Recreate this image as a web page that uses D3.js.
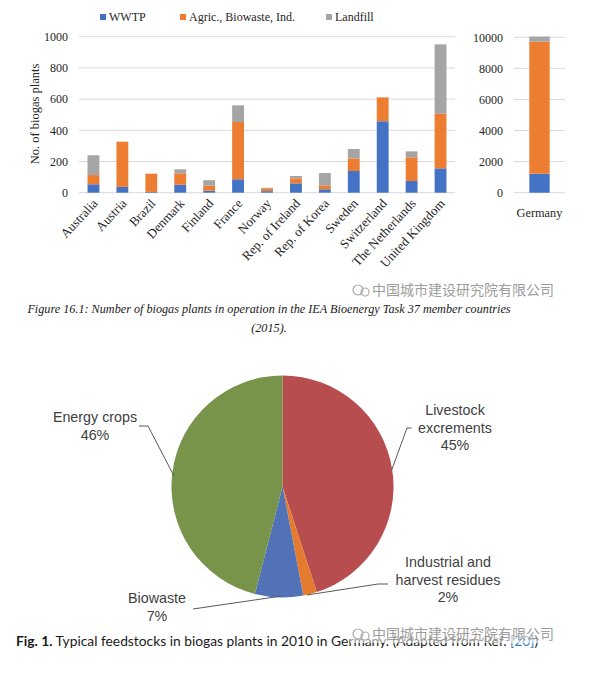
<!DOCTYPE html>
<html><head><meta charset="utf-8">
<script src="https://cdn.jsdelivr.net/npm/d3@7"></script>
<style>body{margin:0;background:#fff}svg{display:block}</style>
</head><body>
<svg id="c" width="600" height="684"></svg>
<script>
const categories = ["Australia","Austria","Brazil","Denmark","Finland","France","Norway","Rep. of Ireland","Rep. of Korea","Sweden","Switzerland","The Netherlands","United Kingdom"];
const wwtp     = [54,37,5,51,13,86,10,60,22,139,458,75,156];
const agric    = [59,290,117,73,32,367,18,32,25,81,153,152,350];
const landfill = [127,0,0,26,35,107,4,15,79,60,0,38,445];
const seriesNames = ["WWTP","Agric., Biowaste, Ind.","Landfill"];
const germanyCat = ["Germany"];
const germanyVals = [1222, 8495, 330];
const leftTicks = [0,200,400,600,800,1000];
const rightTicks = [0,2000,4000,6000,8000,10000];
const pieLabels = [["Livestock","excrements","45%"],["Industrial and","harvest residues","2%"],["Biowaste","7%"],["Energy crops","46%"]];
const pieValues = [45,2,7,46];

const svg = d3.select("#c");
const serif = "'Liberation Serif', serif";
const sans = "'Liberation Sans', Arial, sans-serif";
const barColors = ["#4472C4","#ED7D31","#A5A5A5"];

// ---------- Left stacked bars ----------
const rows = categories.map((c,i)=>({cat:c, WWTP:wwtp[i], "Agric., Biowaste, Ind.":agric[i], Landfill:landfill[i]}));
const stack = d3.stack().keys(seriesNames);
const x = d3.scaleBand().domain(categories).range([79,455]).paddingInner(0.59).paddingOuter(0.295);
const y = d3.scaleLinear().domain([0,1000]).range([192.7,36.7]);

const gL = svg.append("g");
gL.selectAll("line.grid").data(leftTicks).join("line")
  .attr("x1",79).attr("x2",455).attr("y1",d=>y(d)).attr("y2",d=>y(d))
  .attr("stroke","#D9D9D9").attr("stroke-width",1);
const yAx = gL.append("g").attr("transform","translate(79,0)")
  .call(d3.axisLeft(y).tickValues(leftTicks).tickSize(0).tickPadding(11).tickFormat(d3.format("d")));
yAx.select(".domain").remove();
yAx.selectAll("text").attr("font-family",serif).attr("font-size","12px").attr("fill","#262626");

gL.selectAll("g.s").data(stack(rows)).join("g").attr("fill",(d,i)=>barColors[i])
  .selectAll("rect").data(d=>d).join("rect")
  .attr("x",d=>x(d.data.cat)).attr("width",x.bandwidth())
  .attr("y",d=>y(d[1])).attr("height",d=>y(d[0])-y(d[1]));

gL.selectAll("text.xl").data(categories).join("text")
  .attr("transform",d=>`translate(${x(d)+x.bandwidth()/2+5},${204}) rotate(-47)`)
  .attr("text-anchor","end").attr("font-family",serif).attr("font-size","13px").attr("fill","#262626")
  .text(d=>d);

gL.append("text").attr("transform","translate(39,114) rotate(-90)")
  .attr("text-anchor","middle").attr("font-family",serif).attr("font-size","12.5px").attr("fill","#262626")
  .text("No. of biogas plants");

// ---------- Right Germany bar ----------
const gRows = [{cat:germanyCat[0], WWTP:germanyVals[0], "Agric., Biowaste, Ind.":germanyVals[1], Landfill:germanyVals[2]}];
const x2 = d3.scaleBand().domain(germanyCat).range([514,565]).paddingInner(0.6).paddingOuter(0.3);
const y2 = d3.scaleLinear().domain([0,10000]).range([192.7,37.3]);
const gR = svg.append("g");
gR.selectAll("line.grid").data(rightTicks).join("line")
  .attr("x1",514).attr("x2",565).attr("y1",d=>y2(d)).attr("y2",d=>y2(d))
  .attr("stroke","#D9D9D9").attr("stroke-width",1);
const y2Ax = gR.append("g").attr("transform","translate(514,0)")
  .call(d3.axisLeft(y2).tickValues(rightTicks).tickSize(0).tickPadding(11).tickFormat(d3.format("d")));
y2Ax.select(".domain").remove();
y2Ax.selectAll("text").attr("font-family",serif).attr("font-size","12px").attr("fill","#262626");
gR.selectAll("g.s").data(stack(gRows)).join("g").attr("fill",(d,i)=>barColors[i])
  .selectAll("rect").data(d=>d).join("rect")
  .attr("x",d=>x2(d.data.cat)).attr("width",x2.bandwidth())
  .attr("y",d=>y2(d[1])).attr("height",d=>y2(d[0])-y2(d[1]));
gR.append("text").attr("x",x2(germanyCat[0])+x2.bandwidth()/2).attr("y",217)
  .attr("text-anchor","middle").attr("font-family",serif).attr("font-size","12.3px").attr("fill","#262626")
  .text(germanyCat[0]);

// ---------- Legend ----------
const legX = [100,180,326];
const leg = svg.append("g");
seriesNames.forEach((n,i)=>{
  leg.append("rect").attr("x",legX[i]).attr("y",14).attr("width",6).attr("height",6).attr("fill",barColors[i]);
  leg.append("text").attr("x",legX[i]+9).attr("y",21).attr("font-family",serif).attr("font-size","12px").attr("fill","#262626").text(n);
});

// ---------- Caption 1 ----------
const cap1 = svg.append("g").attr("font-family",serif).attr("font-style","italic").attr("font-size","12.2px").attr("fill","#1a1a1a").attr("text-anchor","middle");
cap1.append("text").attr("x",269).attr("y",313).text("Figure 16.1: Number of biogas plants in operation in the IEA Bioenergy Task 37 member countries");
cap1.append("text").attr("x",269).attr("y",332).text("(2015).");

// ---------- Pie ----------
const cx=282.5, cy=486.5, R=111;
const pieColors = ["#B84D50","#E47B2E","#5172B6","#78934A"];
const pie = d3.pie().sort(null).value(d=>d)(pieValues);
const arc = d3.arc().innerRadius(0).outerRadius(R);
const gP = svg.append("g").attr("transform",`translate(${cx},${cy})`);
gP.selectAll("path").data(pie).join("path").attr("d",arc).attr("fill",(d,i)=>pieColors[i]);

// leader lines
const leaders = [
  [[411.7,428],[407,428],[391.7,470]],
  [[388,584],[378,584],[307,595]],
  [[193,609],[282,596]],
  [[139,426],[148,426],[174,476]]
];
svg.selectAll("polyline.ld").data(leaders).join("polyline")
  .attr("points",d=>d.map(p=>p.join(",")).join(" "))
  .attr("fill","none").attr("stroke","#595959").attr("stroke-width",1);

const labelPos = [[455,415],[448,567],[157,603],[95,422]];
pieLabels.forEach((lines,i)=>{
  const t = svg.append("text").attr("text-anchor","middle").attr("font-family",sans).attr("font-size","14.3px").attr("fill","#404040");
  lines.forEach((ln,j)=>t.append("tspan").attr("x",labelPos[i][0]).attr("y",labelPos[i][1]+j*17.5).text(ln));
});

// ---------- Caption 2 ----------
const cap2 = svg.append("text").attr("x",16).attr("y",646).attr("font-family","Lato, sans-serif").attr("font-size","13.8px").attr("fill","#1a1a1a");
cap2.append("tspan").attr("font-weight","bold").text("Fig. 1.");
cap2.append("tspan").text(" Typical feedstocks in biogas plants in 2010 in Germany. (Adapted from Ref. ");
cap2.append("tspan").attr("fill","#3D7FC0").text("[20]");
cap2.append("tspan").text(")");

// ---------- Watermarks ----------
function watermark(xs, yc){
  const g = svg.append("g");
  g.append("rect").attr("x",xs-22).attr("y",yc-9).attr("width",210).attr("height",18).attr("fill","#fff").attr("opacity",0.55);
  g.append("circle").attr("cx",xs-14).attr("cy",yc).attr("r",5).attr("fill","none").attr("stroke","#aaa").attr("stroke-width",1.2);
  g.append("circle").attr("cx",xs-7).attr("cy",yc+2).attr("r",4).attr("fill","none").attr("stroke","#aaa").attr("stroke-width",1.2);
  g.append("text").attr("x",xs).attr("y",yc+5).attr("font-family","'Noto Sans CJK SC'").attr("font-size","14px")
    .attr("fill","#8c8c8c").attr("opacity",0.85).text("中国城市建设研究院有限公司");
}
watermark(372,290);
watermark(372,634);
</script>
</body></html>
